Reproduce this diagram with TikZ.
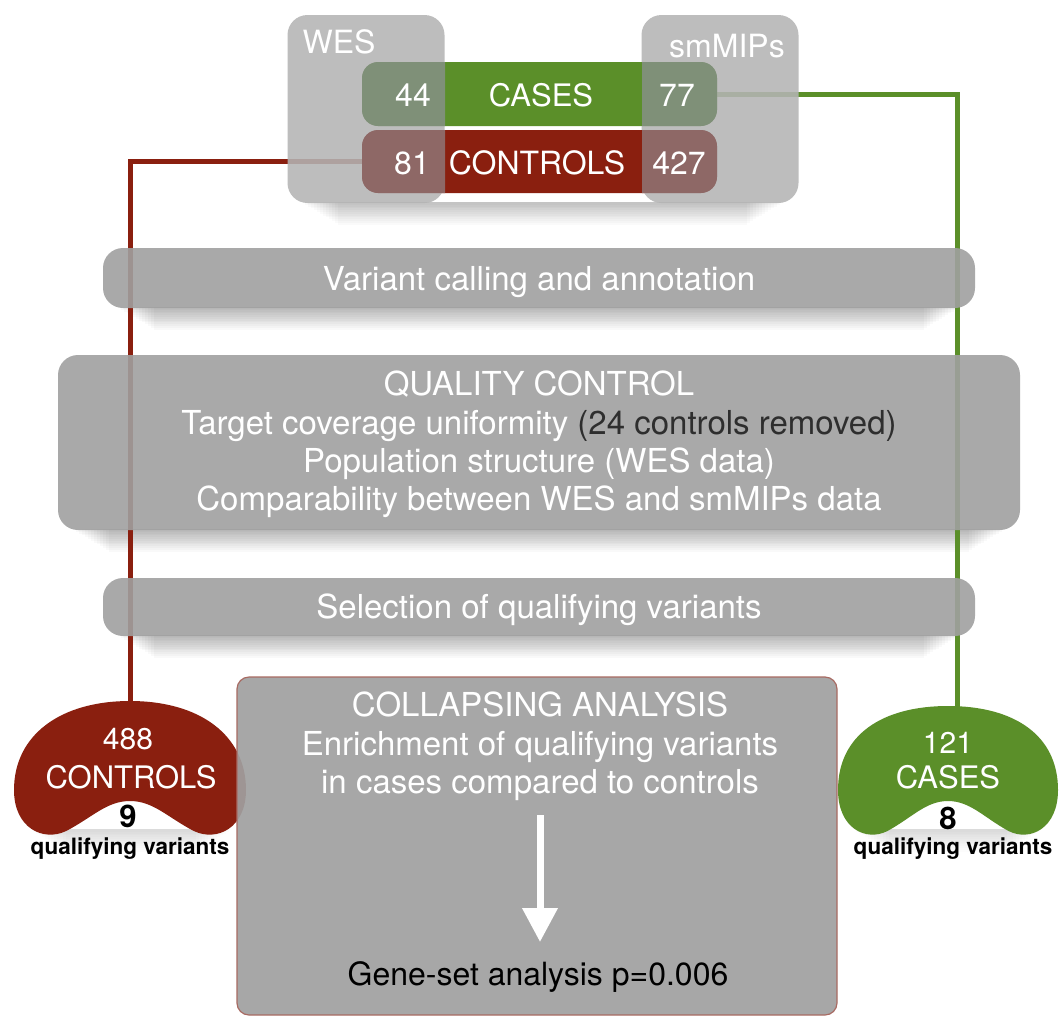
\documentclass[tikz,border=0pt]{standalone}
\usepackage{fontspec}
\setmainfont{TeX Gyre Heros}
\usetikzlibrary{arrows.meta}
\definecolor{cgreen}{HTML}{5B8F29}
\definecolor{cred}{HTML}{8A1F0F}
\definecolor{greenov}{HTML}{7F9078}
\definecolor{redov}{HTML}{8E6866}
\definecolor{lgrey}{HTML}{B4B4B4}
\definecolor{mgrey}{HTML}{A0A0A0}
\definecolor{boxedge}{HTML}{A86A62}
\newcommand{\softshadow}[4]{%
  \foreach \k in {1,...,12}{%
    \fill[black,opacity=#4] ({#1+15+3*\k},{#3-1}) rectangle ({#2-15-3*\k},{#3+1.8*\k});}}
\newcommand{\kidneyshape}[4]{% cx, top, halfwidth, colour
  \fill[#4] ({#1-#3},790)
    .. controls ({#1-#3},735) and ({#1-0.6*#3},#2) .. ({#1},#2)
    .. controls ({#1+0.6*#3},#2) and ({#1+#3},735) .. ({#1+#3},790)
    .. controls ({#1+#3},828) and ({#1+0.75*#3},842) .. ({#1+0.55*#3},831)
    .. controls ({#1+0.32*#3},817) and ({#1+0.2*#3},801) .. ({#1},801)
    .. controls ({#1-0.2*#3},801) and ({#1-0.32*#3},817) .. ({#1-0.55*#3},831)
    .. controls ({#1-0.75*#3},842) and ({#1-#3},828) .. cycle;}
\begin{document}
\begin{tikzpicture}[x=1pt,y=-1pt,
  wtxt/.style={text=white,inner sep=0pt,anchor=base,font=\fontsize{32}{36}\selectfont},
  ktxt/.style={text=black,inner sep=0pt,anchor=base},
  greybar/.style={fill=mgrey,fill opacity=0.9,rounded corners=20,inner sep=0pt},
  srcbox/.style={fill=lgrey,fill opacity=0.88,rounded corners=20,inner sep=0pt,minimum width=157,minimum height=188},
  redline/.style={draw=cred,line width=5},
  greenline/.style={draw=cgreen,line width=5},
  whitearrow/.style={draw=white,line width=7,-{Triangle[width=34,length=34]}}]
\useasboundingbox (0,0) rectangle (1060,1018);
\fill[white] (0,0) rectangle (1060,1018);

% shadows
\softshadow{287}{798}{203}{0.02}
\softshadow{103}{975}{308}{0.022}
\softshadow{58}{1020}{530}{0.022}
\softshadow{103}{975}{636}{0.022}
\softshadow{15}{247}{830}{0.012}
\softshadow{838}{1058}{830}{0.012}

% bars (connectors start here)
\node[fill=cgreen,minimum width=355,minimum height=64,inner sep=0pt,rounded corners=16] (casebar) at (539.5,94) {};
\node[fill=cred,minimum width=355,minimum height=63,inner sep=0pt,rounded corners=16] (ctrlbar) at (539.5,161.5) {};

% blob anchor coordinates
\coordinate (redtop) at (130,703);
\coordinate (greentop) at (957,709);

% connectors
\draw[redline] (ctrlbar.west) -| (redtop);
\draw[greenline] (casebar.east) -| (greentop);

% source boxes
\node[srcbox] (wesbox) at (366,109) {};
\node[srcbox] (smbox) at (720,109) {};

% redraw bars over boxes, overlaps muted
\fill[cgreen] (445,62) rectangle (642,126);
\fill[cred] (445,130) rectangle (642,193);
\begin{scope}
  \clip (287,0) rectangle (445,250);
  \fill[greenov,rounded corners=16] (362,62) rectangle (717,126);
  \fill[redov,rounded corners=16] (362,130) rectangle (717,193);
\end{scope}
\begin{scope}
  \clip (642,0) rectangle (798,250);
  \fill[greenov,rounded corners=16] (362,62) rectangle (717,126);
  \fill[redov,rounded corners=16] (362,130) rectangle (717,193);
\end{scope}

\node[wtxt] (wes) at (339,53) {WES};
\node[wtxt] (smmips) at (727,57) {smMIPs};
\node[wtxt] (n44) at (413,106) {44};
\node[wtxt,font=\fontsize{31}{36}\selectfont] (cases) at (541,106) {CASES};
\node[wtxt] (n77) at (677,106) {77};
\node[wtxt] (n81) at (412,174) {81};
\node[wtxt] (controls) at (537,174) {CONTROLS};
\node[wtxt] (n427) at (679,174) {427};

% blobs
\kidneyshape{130}{701}{116}{cred}
\kidneyshape{948}{706}{110}{cgreen}

% grey process bars
\node[greybar,minimum width=872,minimum height=60] (variantbox) at (539,278) {};
\node[wtxt,font=\fontsize{33}{36}\selectfont] (variant) at (539,290) {Variant calling and annotation};

\node[greybar,minimum width=962,minimum height=175] (qcbox) at (539,442.5) {};
\node[wtxt,font=\fontsize{33}{36}\selectfont] (qc1) at (539,395) {QUALITY CONTROL};
\node[wtxt,font=\fontsize{33}{36}\selectfont] (qc2) at (539,434) {Target coverage uniformity \textcolor[HTML]{2E2E2E}{(24 controls removed)}};
\node[wtxt,font=\fontsize{33}{36}\selectfont] (qc3) at (539,472) {Population structure (WES data)};
\node[wtxt,font=\fontsize{33}{36}\selectfont] (qc4) at (539,510) {Comparability between WES and smMIPs data};

\node[greybar,minimum width=872,minimum height=58] (selbox) at (539,607) {};
\node[wtxt,font=\fontsize{33}{36}\selectfont] (sel) at (539,618) {Selection of qualifying variants};

\node[fill=mgrey,fill opacity=0.92,draw=boxedge,line width=1.2,rounded corners=12,inner sep=0pt,minimum width=600,minimum height=338] (collbox) at (537,846) {};
\node[wtxt,font=\fontsize{33}{36}\selectfont] (coll1) at (540,716) {COLLAPSING ANALYSIS};
\node[wtxt,font=\fontsize{33}{36}\selectfont] (coll2) at (540,755) {Enrichment of qualifying variants};
\node[wtxt,font=\fontsize{33}{36}\selectfont] (coll3) at (540,793) {in cases compared to controls};
\node[ktxt,font=\fontsize{32}{36}\selectfont] (gene) at (538,985) {Gene-set analysis p=0.006};
\coordinate (arrtop) at (540,815);
\coordinate (arrtip) at (540,942);
\draw[whitearrow] (arrtop) -- (arrtip);

% blob texts
\node[wtxt,font=\fontsize{30}{36}\selectfont] (r488) at (128,749) {488};
\node[wtxt,font=\fontsize{31}{36}\selectfont] (rctrl) at (131,788) {CONTROLS};
\node[ktxt,font=\fontsize{31}{36}\selectfont\bfseries] (r9) at (128,827) {9};
\node[ktxt,font=\fontsize{22.5}{26}\selectfont\bfseries] (rq) at (130,854) {qualifying variants};

\node[wtxt,font=\fontsize{30}{36}\selectfont] (g121) at (948,753) {121};
\node[wtxt,font=\fontsize{31}{36}\selectfont] (gcases) at (948,788) {CASES};
\node[ktxt,font=\fontsize{31}{36}\selectfont\bfseries] (g8) at (948,829) {8};
\node[ktxt,font=\fontsize{22.5}{26}\selectfont\bfseries] (gq) at (953,854) {qualifying variants};
\end{tikzpicture}
\end{document}
